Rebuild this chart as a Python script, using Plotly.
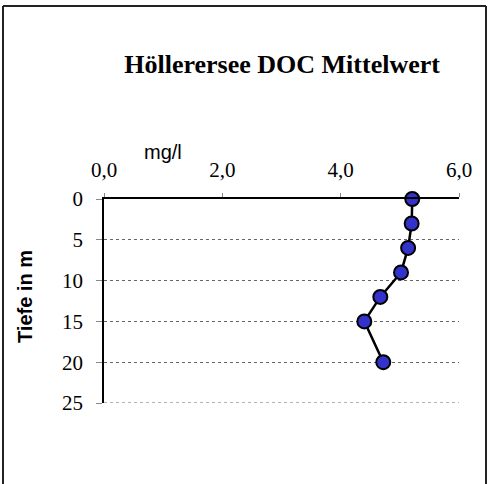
import plotly.graph_objects as go

# depth profile of DOC mean values
tiefe = [0, 3, 6, 9, 12, 15, 20]
doc_mg_l = [5.21, 5.20, 5.14, 5.02, 4.67, 4.40, 4.72]

x_ticks = [0, 2, 4, 6]
y_ticks = [0, 5, 10, 15, 20, 25]

serif = "Liberation Serif, Times New Roman, serif"
sans = "Liberation Sans, Arial, sans-serif"

fig = go.Figure()
fig.add_trace(go.Scatter(
    x=doc_mg_l, y=tiefe, mode="lines+markers",
    line=dict(color="black", width=2.5),
    marker=dict(size=14, color="#3333CC", line=dict(color="black", width=2)),
    showlegend=False, cliponaxis=False, hoverinfo="skip",
))

fig.update_layout(
    width=494, height=484,
    margin=dict(l=104, r=35, t=199, b=81),
    paper_bgcolor="white", plot_bgcolor="white",
    separators=",.",
    title=dict(text="<b>Höllerersee DOC Mittelwert</b>", x=0.571, xanchor="center",
               y=0.868, yanchor="middle", font=dict(family=serif, size=26, color="black")),
    xaxis=dict(
        side="top", range=[0, 6], tickvals=x_ticks, tickformat=".1f",
        showgrid=False, zeroline=False,
        showline=True, linecolor="black", linewidth=1.5,
        ticks="outside", ticklen=4, tickcolor="#888", tickwidth=1,
        ticklabelstandoff=8,
        tickfont=dict(family=serif, size=21, color="black"),
    ),
    yaxis=dict(
        range=[25, 0], tickvals=y_ticks,
        showgrid=True, gridcolor="#666", griddash="dot", gridwidth=1,
        zeroline=False,
        showline=True, linecolor="black", linewidth=1.5,
        ticks="outside", ticklen=6, tickcolor="#888", tickwidth=1,
        ticklabelstandoff=9,
        tickfont=dict(family=serif, size=21, color="black"),
    ),
)

# bottom grid line (plotly skips the one on the plot edge)
fig.add_shape(type="line", xref="x", yref="y", x0=x_ticks[0], x1=x_ticks[-1],
              y0=y_ticks[-1], y1=y_ticks[-1], layer="below",
              line=dict(color="#666", width=1, dash="dot"))

fig.add_annotation(text="mg/l", xref="paper", yref="paper", x=(163 - 104) / 355,
                   y=(403 - 152) / 204, xanchor="center", yanchor="middle",
                   showarrow=False, font=dict(family=sans, size=20, color="black"))
fig.add_annotation(text="<b>Tiefe in m</b>", xref="paper", yref="paper",
                   x=(25 - 104) / 355, y=(403 - 297) / 204, textangle=-90,
                   xanchor="center", yanchor="middle",
                   showarrow=False, font=dict(family=sans, size=20, color="black"))

# outer chart frame
frame = dict(color="#222", width=2)
fx0, fx1 = (3 - 104) / 355, (486 - 104) / 355
fy0, fy1 = (403 - 495) / 204, (403 - 6) / 204
fig.add_shape(type="line", xref="paper", yref="paper", x0=fx0, x1=fx1, y0=fy1, y1=fy1, line=frame)
fig.add_shape(type="line", xref="paper", yref="paper", x0=fx0, x1=fx0, y0=fy0, y1=fy1, line=frame)
fig.add_shape(type="line", xref="paper", yref="paper", x0=fx1, x1=fx1, y0=fy0, y1=fy1, line=frame)

fig.write_html("out.html", config={"displayModeBar": False},
               post_script="document.body.style.margin='0';")
